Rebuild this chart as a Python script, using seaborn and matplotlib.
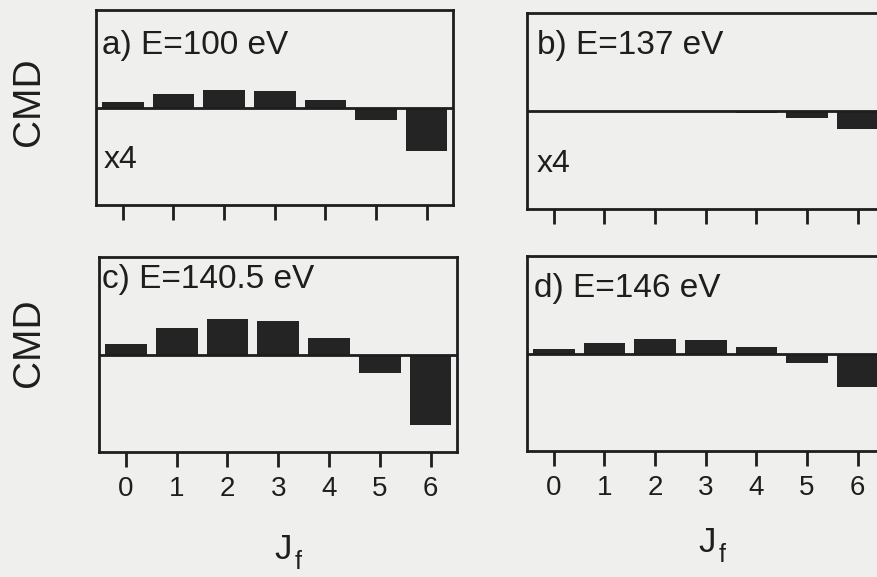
import numpy as np
import pandas as pd
import matplotlib
matplotlib.use('Agg')
import matplotlib.pyplot as plt
import seaborn as sns

# Data (bar heights as drawn, panels a/b are shown x4)
jf = [0, 1, 2, 3, 4, 5, 6]
cmd_a = [0.055, 0.14, 0.18, 0.17, 0.075, -0.13, -0.45]
cmd_b = [0.0, 0.0, 0.0, 0.0, -0.02, -0.07, -0.18]
cmd_c = [0.105, 0.27, 0.36, 0.34, 0.165, -0.19, -0.72]
cmd_d = [0.045, 0.11, 0.15, 0.14, 0.065, -0.095, -0.345]
titles = ['a) E=100 eV', 'b) E=137 eV', 'c) E=140.5 eV', 'd) E=146 eV']
scale_labels = ['x4', 'x4', None, None]

sns.set_style('white')
plt.rcParams['font.family'] = ['Liberation Sans', 'DejaVu Sans']

paper = '#efefed'
ink = '#1e1e1e'
bar_col = '#242424'

fig = plt.figure(figsize=(8.78, 5.77), dpi=100, facecolor=paper)

W, H = 878, 577
# axes boxes in pixels: left, top, width, height
boxes = [(96, 10, 357, 195), (527, 13, 357, 196),
         (99, 257, 358, 195), (527, 256, 357, 195)]
title_pos = [(6, 44), (10, 41), (3, 31), (7, 41)]
scale_pos = [(8, 158), (10, 159)]
data = [cmd_a, cmd_b, cmd_c, cmd_d]

for i, (box, vals) in enumerate(zip(boxes, data)):
    l, t, w, h = box
    ax = fig.add_axes([l / W, 1 - (t + h) / H, w / W, h / H])
    ax.set_facecolor('none')
    df = pd.DataFrame({'J': jf, 'CMD': vals})
    sns.barplot(data=df, x='J', y='CMD', color=bar_col, width=0.82,
                saturation=1, edgecolor='none', ax=ax)
    ax.axhline(0, color=ink, lw=2.0, zorder=3)
    ax.set_xlim(-0.53, 6.52)
    ax.set_ylim(-1, 1)
    ax.set_yticks([])
    ax.set_xlabel('')
    ax.set_ylabel('')
    for s in ax.spines.values():
        s.set_color(ink)
        s.set_linewidth(2.0)
    ax.tick_params(axis='x', direction='out', length=10.5, width=2.0,
                   color=ink, pad=7, labelsize=20, labelcolor=ink,
                   bottom=True)
    if i < 2:
        ax.set_xticklabels([])
    tx, ty = title_pos[i]
    ax.text(tx / w, 1 - ty / h, titles[i], transform=ax.transAxes,
            fontsize=24, color=ink, ha='left', va='baseline')
    if scale_labels[i]:
        sx, sy = scale_pos[i]
        ax.text(sx / w, 1 - sy / h, scale_labels[i], transform=ax.transAxes,
                fontsize=23, color=ink, ha='left', va='baseline')

# y labels
for yc in [102, 343]:
    fig.text(29 / W, 1 - yc / H, 'CMD', rotation=90, fontsize=28, color=ink,
             ha='center', va='center')

# x labels: J with subscript f
for xc, yb in [(283, 559), (707, 552)]:
    fig.text(xc / W, 1 - yb / H, 'J', fontsize=25, color=ink,
             ha='center', va='baseline')
    fig.text((xc + 12) / W, 1 - (yb + 10) / H, 'f', fontsize=18, color=ink,
             ha='left', va='baseline')

fig.savefig('out.png', dpi=100, facecolor=paper)
